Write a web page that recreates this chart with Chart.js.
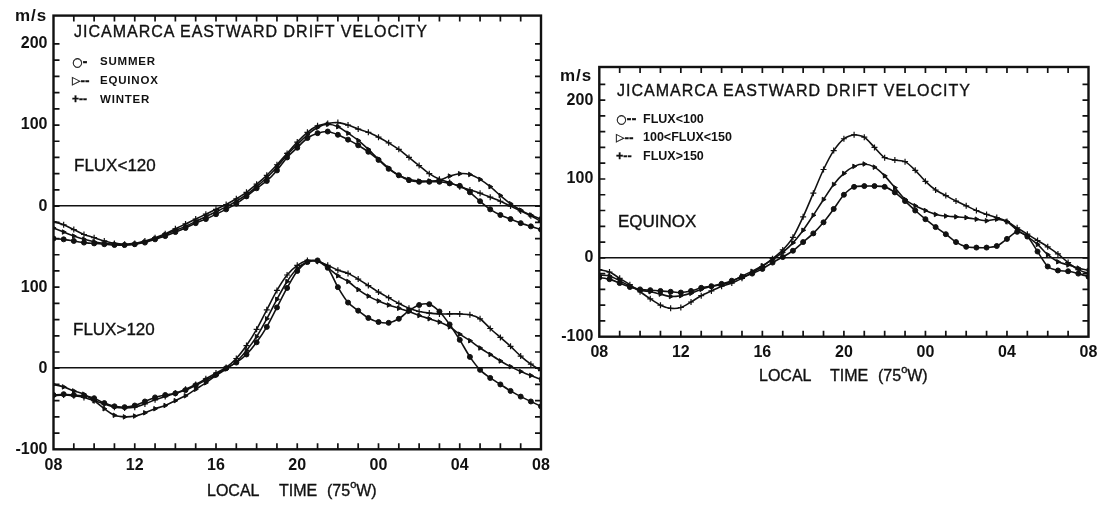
<!DOCTYPE html>
<html><head><meta charset="utf-8">
<script src="https://cdn.jsdelivr.net/npm/chart.js@4.4.0/dist/chart.umd.min.js"></script>
<style>
html,body{margin:0;padding:0;background:#fff;}
#wrap{position:relative;width:1104px;height:505px;overflow:hidden;background:#fff;font-family:"Liberation Sans",Arial,Helvetica,sans-serif;color:#111;}
canvas{position:absolute;top:0;}
.t{position:absolute;white-space:pre;line-height:1;color:#111;-webkit-text-stroke:0.35px #111;}
.sym{font-family:"DejaVu Sans","Liberation Sans",sans-serif;}
</style></head><body><div id="wrap">
<canvas id="cL" width="560" height="505" style="left:0"></canvas>
<canvas id="cR" width="544" height="505" style="left:560px"></canvas>
</div>
<script>
// ---------- data ----------
const hours = [8,8.5,9,9.5,10,10.5,11,11.5,12,12.5,13,13.5,14,14.5,15,15.5,16,16.5,17,17.5,18,18.5,19,19.5,20,20.5,21,21.5,22,22.5,23,23.5,24,24.5,25,25.5,26,26.5,27,27.5,28,28.5,29,29.5,30,30.5,31,31.5,32];
const xTickHours = [8,12,16,20,24,28,32];
const xTickLabels = ['08','12','16','20','00','04','08'];

// Left figure, upper panel: FLUX<120
const lowSummer  = [-40,-41,-43,-45,-46,-47,-48,-48,-47,-45,-41,-37,-32,-27,-21,-16,-10,-4,3,12,22,31,44,60,72,84,90,92,88,82,75,67,57,46,38,32,30,30,30,28,25,17,6,-4,-11,-16,-21,-25,-29];
const lowEquinox = [-27,-32,-37,-41,-44,-46,-47,-48,-47,-44,-40,-35,-30,-25,-19,-13,-7,-1,6,14,24,35,48,63,76,88,97,101,98,90,81,70,58,47,38,33,31,31,32,37,40,39,33,24,13,3,-5,-11,-16];
const lowWinter  = [-19,-23,-29,-35,-39,-43,-46,-47,-46,-43,-39,-34,-28,-22,-16,-10,-4,2,9,17,27,38,51,65,79,91,99,102,103,100,95,91,85,78,70,60,50,40,33,29,24,20,16,11,6,0,-6,-12,-19];
// Left figure, lower panel: FLUX>120
const highSummer  = [-33,-32,-33,-34,-37,-43,-47,-48,-46,-41,-36,-33,-31,-27,-21,-15,-8,0,7,17,32,51,75,99,120,131,133,124,100,81,71,62,57,56,61,71,78,79,70,54,35,14,-2,-12,-20,-28,-35,-41,-47];
const highEquinox = [-20,-23,-28,-32,-40,-50,-58,-60,-59,-55,-50,-46,-40,-34,-26,-18,-9,-1,8,22,39,61,85,107,123,131,132,124,114,107,97,89,83,78,74,70,65,61,57,51,42,34,25,17,9,2,-4,-9,-14];
const highWinter  = [-34,-33,-34,-36,-40,-44,-48,-49,-48,-44,-39,-35,-31,-26,-20,-13,-6,1,12,28,48,72,96,115,127,133,132,127,121,117,110,102,94,87,80,74,70,68,67,67,67,66,61,49,38,27,15,5,-3];
// Right figure: equinox by flux
const eqFluxLt100   = [-25,-27,-32,-37,-40,-41,-42,-43,-44,-42,-38,-36,-33,-29,-24,-20,-14,-6,1,9,20,31,45,62,80,90,91,91,90,83,72,60,49,39,30,20,14,13,13,15,24,33,27,8,-11,-16,-17,-20,-24];
const eqFlux100_150 = [-22,-23,-29,-36,-41,-43,-46,-49,-48,-45,-40,-36,-34,-30,-23,-17,-10,-2,7,19,35,54,74,93,107,116,119,115,104,89,74,66,60,55,53,52,51,49,47,49,46,35,27,17,4,-5,-9,-13,-16];
const eqFluxGt150   = [-15,-18,-26,-34,-43,-52,-60,-64,-63,-56,-48,-42,-36,-32,-26,-19,-11,-1,10,26,52,82,112,136,151,156,153,140,127,124,122,111,97,86,79,72,66,60,55,51,46,38,30,22,14,5,-6,-15,-20];

// upper panel of the left figure sits 200 m/s higher on a shared vertical axis
const UPPER_SHIFT = 200;
const leftYTickValues = [-100,0,100,200,300,400];
const leftYTickLabels = ['-100','0','100','0','100','200'];
const rightYTickValues = [-100,0,100,200];
const rightYTickLabels = ['-100','0','100','200'];

// ---------- drawing ----------
Chart.defaults.font.family = '"Liberation Sans", Arial, Helvetica, sans-serif';
Chart.defaults.color = '#111';
const INK = '#111';

function series(values, shift, style){
  const base = {borderColor: INK, backgroundColor: INK, borderWidth: 1.6, tension: 0.25,
    pointBorderColor: INK, pointBackgroundColor: INK, pointBorderWidth: 1, fill: false};
  const st = {
    circle:   {pointStyle:'circle', pointRadius:2.5},
    triangle: {pointStyle:'triangle', pointRadius:2.6, pointRotation:90},
    cross:    {pointStyle:'cross', pointRadius:3, pointBorderWidth:1.2}
  }[style];
  return Object.assign(base, st, {data: hours.map((h,i)=>({x:h, y: values[i] + shift}))});
}

const framePlugin = {
  id: 'frame',
  afterDatasetsDraw(chart){
    const {ctx, chartArea:a, scales:{x, y}} = chart;
    ctx.save();
    ctx.strokeStyle = INK;
    ctx.lineWidth = 1.7;
    ctx.beginPath();
    const L = 6;
    x.ticks.forEach(t => {
      const px = x.getPixelForValue(t.value);
      if (px <= a.left + 1 || px >= a.right - 1) return;
      ctx.moveTo(px, a.bottom); ctx.lineTo(px, a.bottom - L);
      ctx.moveTo(px, a.top); ctx.lineTo(px, a.top + L);
    });
    y.ticks.forEach(t => {
      if (t.value % 20 !== 0) return;
      const py = y.getPixelForValue(t.value);
      if (py <= a.top + 1 || py >= a.bottom - 1) return;
      ctx.moveTo(a.left, py); ctx.lineTo(a.left + L, py);
      ctx.moveTo(a.right, py); ctx.lineTo(a.right - L, py);
    });
    ctx.stroke();
    ctx.lineWidth = 2.4;
    ctx.strokeRect(a.left, a.top, a.right - a.left, a.bottom - a.top);
    ctx.restore();
  }
};

function makeChart(id, datasets, ymin, ymax, yVals, yLabels, zeroVals, yWidth, pad){
  return new Chart(document.getElementById(id), {
    type: 'line',
    data: {datasets},
    options: {
      responsive: false, animation: false, devicePixelRatio: 1,
      layout: {padding: pad},
      plugins: {legend: {display:false}, tooltip: {enabled:false}},
      scales: {
        x: {type:'linear', min:8, max:32,
          border:{display:false},
          grid:{display:false, drawTicks:false},
          ticks:{stepSize:1, autoSkip:false, maxRotation:0, padding:6.5, font:{size:16, weight:'bold'},
            callback: v => { const i = xTickHours.indexOf(v); return i >= 0 ? xTickLabels[i] : ''; }},
          afterFit: s => { s.height = 30; }
        },
        y: {type:'linear', min:ymin, max:ymax,
          border:{display:false},
          grid:{drawTicks:false, lineWidth:1.6,
            color: c => zeroVals.includes(c.tick.value) ? INK : 'rgba(0,0,0,0)'},
          ticks:{stepSize:20, autoSkip:false, padding:6, font:{size:16, weight:'bold'},
            callback: v => { const i = yVals.indexOf(v); return i >= 0 ? yLabels[i] : ''; }},
          afterFit: s => { s.width = yWidth; }
        }
      }
    },
    plugins: [framePlugin]
  });
}

makeChart('cL', [
  series(lowSummer, UPPER_SHIFT, 'circle'),
  series(lowEquinox, UPPER_SHIFT, 'triangle'),
  series(lowWinter, UPPER_SHIFT, 'cross'),
  series(highSummer, 0, 'circle'),
  series(highEquinox, 0, 'triangle'),
  series(highWinter, 0, 'cross')
], -100, 435, leftYTickValues, leftYTickLabels, [0, UPPER_SHIFT], 53.5,
  {left:0, top:12, right:19, bottom:25.7});

makeChart('cR', [
  series(eqFluxLt100, 0, 'circle'),
  series(eqFlux100_150, 0, 'triangle'),
  series(eqFluxGt150, 0, 'cross')
], -100, 242, rightYTickValues, rightYTickLabels, [0], 39.3,
  {left:0, top:67, right:15.5, bottom:138.3});

// ---------- text annotations ----------
const wrap = document.getElementById('wrap');
function addText(html, left, baseline, fs, weight, extra){
  const d = document.createElement('div');
  d.className = 't';
  d.innerHTML = html;
  d.style.left = left + 'px';
  d.style.top = (baseline - 0.847*fs) + 'px';
  d.style.fontSize = fs + 'px';
  d.style.fontWeight = weight || 'normal';
  if (extra) Object.assign(d.style, extra);
  wrap.appendChild(d);
  return d;
}
const TITLE = 'JICAMARCA EASTWARD DRIFT VELOCITY';
const SUP = '<span style="font-size:11px;position:relative;top:-8px">o</span>';
// left figure
addText('m/s', 15, 21, 17, 'bold', {letterSpacing:'1px', webkitTextStroke:'0'});
addText(TITLE, 74, 37.7, 16, 'normal', {letterSpacing:'1px'});
addText('<span class="sym">○-</span>', 72, 66, 12, 'bold');
addText('SUMMER', 100, 66, 11.5, 'bold', {letterSpacing:'0.8px', webkitTextStroke:'0'});
addText('<span class="sym">▷--</span>', 72, 84.3, 11, 'bold');
addText('EQUINOX', 100, 84.3, 11.5, 'bold', {letterSpacing:'0.8px', webkitTextStroke:'0'});
addText('+--', 72, 103.3, 12, 'bold');
addText('WINTER', 100, 103.3, 11.5, 'bold', {letterSpacing:'0.8px', webkitTextStroke:'0'});
addText('FLUX&lt;120', 74, 171.7, 17);
addText('FLUX&gt;120', 73, 335.7, 17);
addText('LOCAL', 207, 496.7, 16);
addText('TIME', 279, 496.7, 16);
addText('(75' + SUP + 'W)', 327, 496.7, 16);
// right figure
addText('m/s', 560, 81.7, 17, 'bold', {letterSpacing:'1px', webkitTextStroke:'0'});
addText(TITLE, 617, 96.7, 16, 'normal', {letterSpacing:'1px'});
addText('<span class="sym">○--</span>', 616, 123.3, 12, 'bold');
addText('FLUX&lt;100', 643, 123.3, 12.5, 'bold', {webkitTextStroke:'0'});
addText('<span class="sym">▷--</span>', 616, 141.7, 11, 'bold');
addText('100&lt;FLUX&lt;150', 643, 141.7, 12.5, 'bold', {webkitTextStroke:'0'});
addText('+--', 616, 161, 12.5, 'bold');
addText('FLUX&gt;150', 643, 161, 12.5, 'bold', {webkitTextStroke:'0'});
addText('EQUINOX', 618, 227.7, 17);
addText('LOCAL', 759, 381.7, 16);
addText('TIME', 830, 381.7, 16);
addText('(75' + SUP + 'W)', 878, 381.7, 16);
</script>
</body></html>
